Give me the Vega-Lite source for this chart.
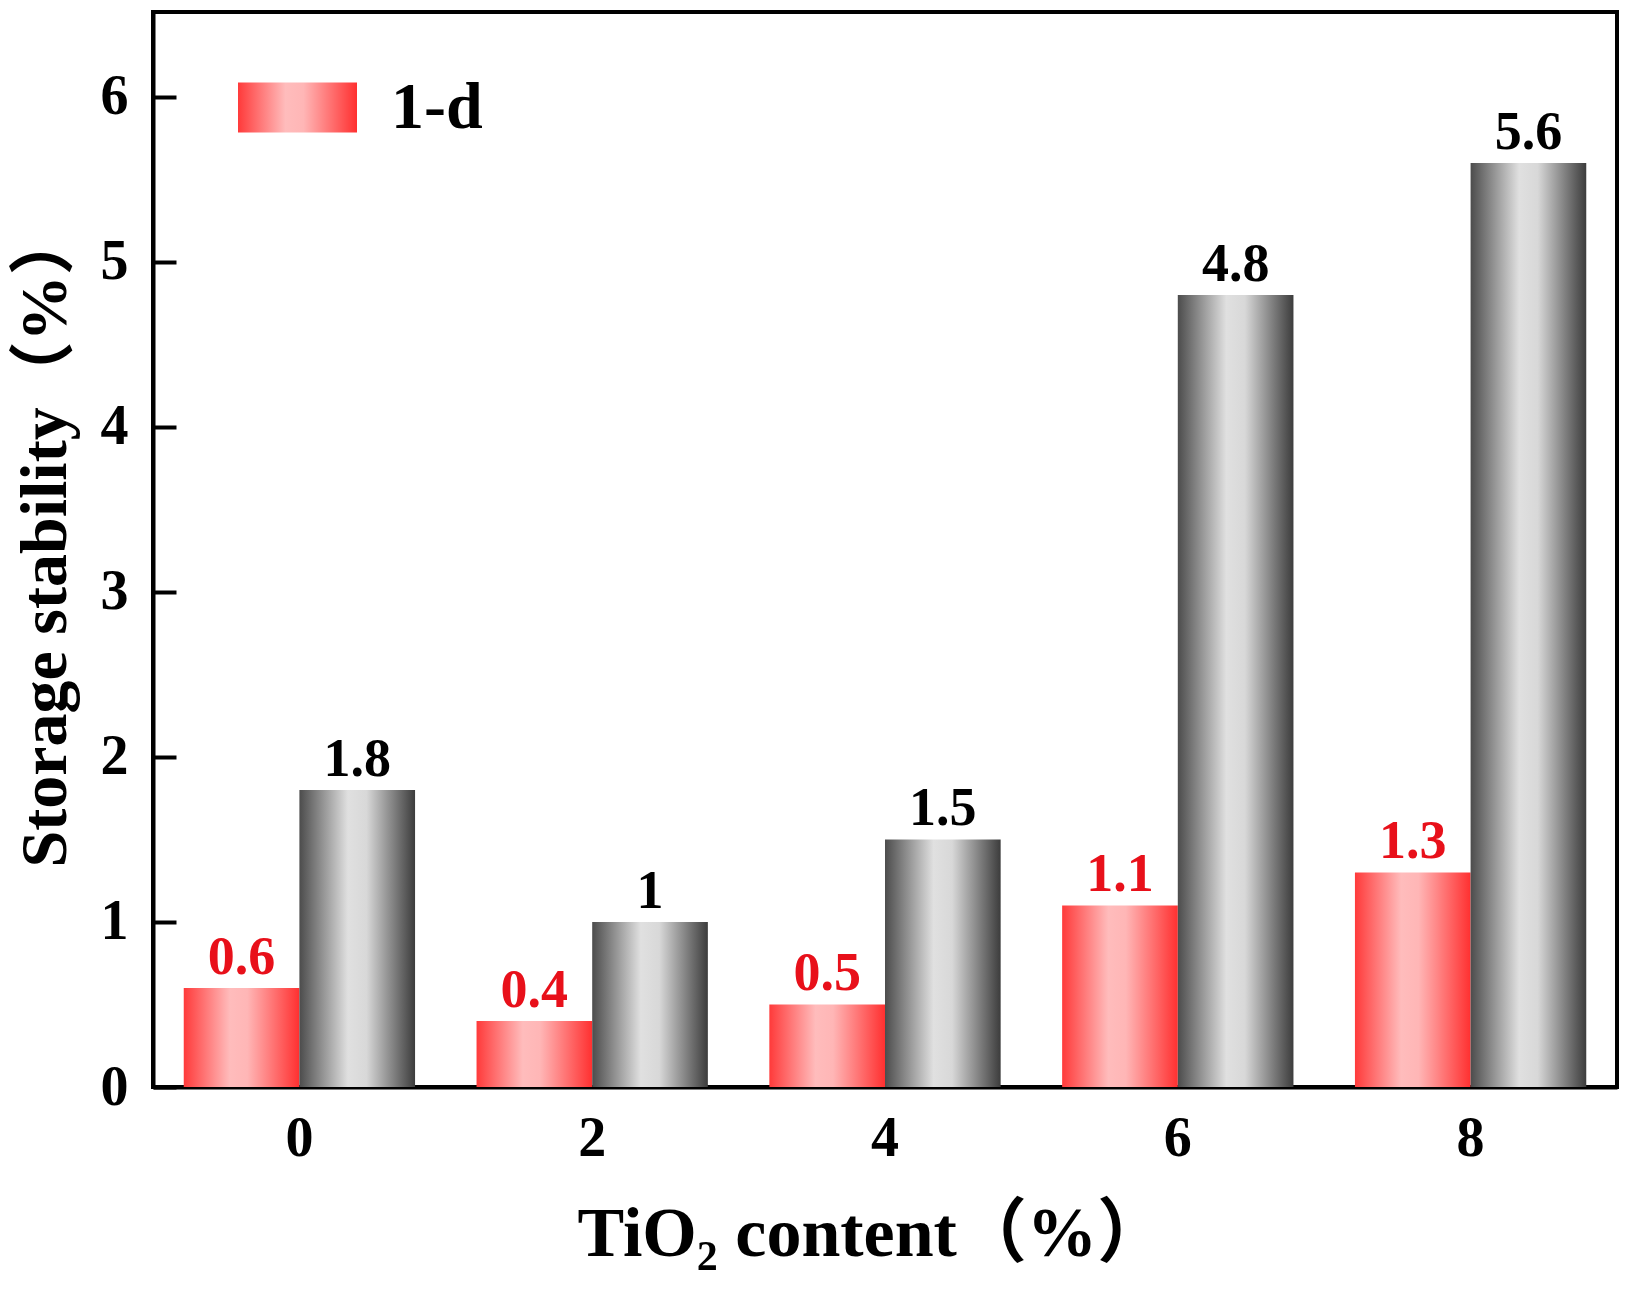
{
  "$schema": "https://vega.github.io/schema/vega-lite/v6.json",
  "width": 1464,
  "height": 1075,
  "autosize": "none",
  "padding": {"left": 153, "top": 12, "right": 12, "bottom": 206},
  "background": "white",
  "config": {
    "font": "Liberation Serif, Noto Sans CJK SC",
    "view": {"stroke": "black", "strokeWidth": 4},
    "axis": {"grid": false, "domainColor": "black", "domainWidth": 4, "labelColor": "black", "titleColor": "black", "labelFontWeight": "bold", "titleFontWeight": "bold"},
    "legend": {
      "title": null,
      "orient": "none",
      "padding": 0,
      "symbolType": "M-1,-0.42H1V0.42H-1Z",
      "symbolSize": 14161,
      "symbolStrokeWidth": 0,
      "labelFontSize": 66,
      "labelFontWeight": "bold",
      "labelColor": "black",
      "labelOffset": 34
    }
  },
  "data": {
    "values": [
      {"content": "0", "period": "1-d", "value": 0.6},
      {"content": "0", "period": "5-d", "value": 1.8},
      {"content": "2", "period": "1-d", "value": 0.4},
      {"content": "2", "period": "5-d", "value": 1.0},
      {"content": "4", "period": "1-d", "value": 0.5},
      {"content": "4", "period": "5-d", "value": 1.5},
      {"content": "6", "period": "1-d", "value": 1.1},
      {"content": "6", "period": "5-d", "value": 4.8},
      {"content": "8", "period": "1-d", "value": 1.3},
      {"content": "8", "period": "5-d", "value": 5.6}
    ]
  },
  "encoding": {
    "x": {
      "field": "content",
      "type": "ordinal",
      "scale": {"paddingInner": 0.21, "paddingOuter": 0.105},
      "axis": {
        "title": "TiO₂ content（%）",
        "titleFontSize": 70,
        "titleAlign": "left",
        "titleBaseline": "alphabetic",
        "titleX": 424,
        "titleY": 168,
        "labelAngle": 0,
        "labelFontSize": 56,
        "labelPadding": 24,
        "ticks": false
      }
    },
    "xOffset": {"field": "period", "type": "nominal", "sort": ["1-d", "5-d"]},
    "y": {
      "field": "value",
      "type": "quantitative",
      "scale": {"domain": [0, 6.515], "nice": false},
      "axis": {
        "title": "Storage stability（%）",
        "titleFontSize": 66,
        "titleAlign": "left",
        "titleBaseline": "middle",
        "titleAngle": -90,
        "titleX": -108,
        "titleY": 855,
        "values": [0, 1, 2, 3, 4, 5, 6],
        "labelFontSize": 56,
        "labelPadding": 48,
        "tickSize": -23,
        "tickWidth": 4,
        "tickColor": "black"
      }
    }
  },
  "layer": [
    {
      "transform": [{"filter": "datum.period === '1-d'"}],
      "mark": {
        "type": "bar",
        "color": {
          "gradient": "linear",
          "x1": 0, "y1": 0, "x2": 1, "y2": 0,
          "stops": [
            {"offset": 0, "color": "#ff3a3a"},
            {"offset": 0.4, "color": "#ffbcbc"},
            {"offset": 0.55, "color": "#ffb6b6"},
            {"offset": 1, "color": "#ff3030"}
          ]
        }
      },
      "encoding": {
        "opacity": {
          "datum": "1-d",
          "type": "nominal",
          "scale": {"type": "ordinal", "domain": ["1-d"], "range": [1]},
          "legend": {"legendX": 85, "legendY": 36}
        }
      }
    },
    {
      "transform": [{"filter": "datum.period === '5-d'"}],
      "mark": {
        "type": "bar",
        "color": {
          "gradient": "linear",
          "x1": 0, "y1": 0, "x2": 1, "y2": 0,
          "stops": [
            {"offset": 0, "color": "#4c4c4c"},
            {"offset": 0.42, "color": "#e0e0e0"},
            {"offset": 0.58, "color": "#d8d8d8"},
            {"offset": 1, "color": "#3c3c3c"}
          ]
        }
      },
      "encoding": {
        "strokeWidth": {
          "datum": "5-d",
          "type": "nominal",
          "scale": {"type": "ordinal", "domain": ["5-d"], "range": [0]},
          "legend": {"legendX": 85, "legendY": 118}
        }
      }
    },
    {
      "mark": {"type": "text", "fontSize": 54, "fontWeight": "bold", "baseline": "alphabetic", "dy": -14},
      "encoding": {
        "text": {"field": "value", "type": "quantitative", "format": "~g"},
        "color": {
          "condition": {"test": "datum.period === '1-d'", "value": "#e8101a"},
          "value": "black"
        }
      }
    }
  ]
}
